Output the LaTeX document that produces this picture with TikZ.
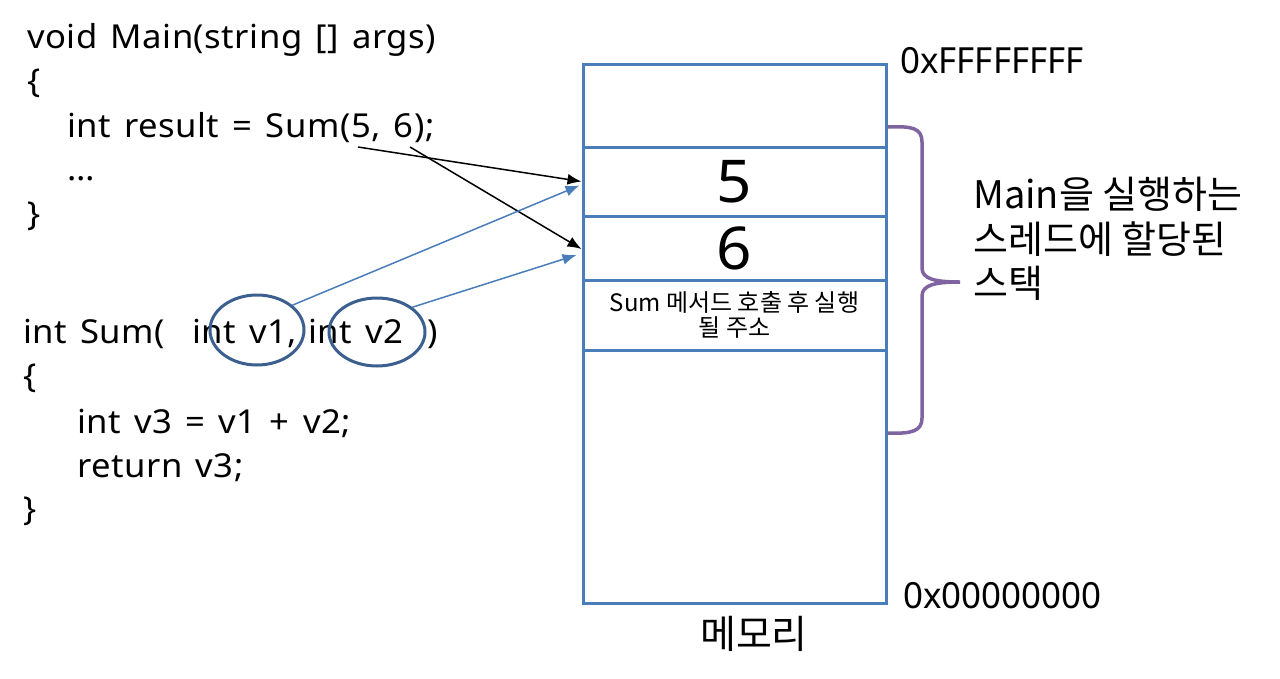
\documentclass[tikz,border=0pt]{standalone}
\usepackage{fontspec}
\setmainfont{Noto Sans}[FakeStretch=1.05,LetterSpace=1.5,WordSpace=1.4]
\newfontfamily\kr{Noto Sans CJK KR}
\newfontfamily\hexfont{Noto Sans}[FakeStretch=0.97]
\usetikzlibrary{arrows.meta,shapes.geometric,calc}
\definecolor{boxblue}{HTML}{4A7EBB}
\definecolor{ellblue}{HTML}{3B5F8F}
\definecolor{brpurple}{HTML}{8064A2}
\begin{document}
\begin{tikzpicture}[x=1pt,y=-1pt,
  code/.style={anchor=base west,inner sep=0pt,font=\fontsize{33}{36}\selectfont},
  cell/.style={draw=boxblue,line width=3pt,minimum width=303pt,inner sep=0pt},
  oval/.style={draw=ellblue,line width=3pt,ellipse,inner sep=0pt},
  blackarr/.style={draw=black,line width=1.5pt,-{Latex[length=14pt,width=11pt]}},
  bluearr/.style={draw=boxblue,line width=1.5pt,-{Latex[length=14pt,width=11pt]}},
  side/.style={anchor=base west,inner sep=0pt,font=\kr\fontsize{38}{44}\selectfont},
  hex/.style={anchor=base west,inner sep=0pt,font=\hexfont\fontsize{36}{40}\selectfont}
]
\useasboundingbox (0,0) rectangle (1280,678);
\fill[white] (0,0) rectangle (1280,678);

% code of Main
\node[code] (l1) at (27,48) {void Main(string [] args)};
\node[code] (l2) at (27,92) {\{};
\node[code] (l3) at (67,137) {int result = Sum(5, 6);};
\node[code] (l4) at (67,180) {…};
\node[code] (l5) at (27,225) {\}};

% code of Sum
\node[code] (m1) at (23,343) {int Sum(};
\node[code] (m1a) at (192,343) {int v1,};
\node[code] (m1b) at (308,343) {int v2};
\node[code] (m1c) at (427,343) {)};
\node[code] (m2) at (23,387) {\{};
\node[code] (m3) at (77,433) {int v3 = v1 + v2;};
\node[code] (m4) at (77,477) {return v3;};
\node[code] (m5) at (23,520) {\}};

% ellipses
\node[oval,minimum width=94pt,minimum height=70pt] (e1) at (257,330) {};
\node[oval,minimum width=96pt,minimum height=68pt] (e2) at (377,332) {};

% memory
\node[cell,minimum height=83pt] (ctop) at (734.5,105.5) {};
\node[cell,minimum height=69pt] (c5) at (734.5,181.5) {\fontsize{59}{60}\selectfont 5};
\node[cell,minimum height=64pt] (c6) at (734.5,248) {\fontsize{59}{60}\selectfont 6};
\node[cell,minimum height=70pt,align=center,font=\kr\fontsize{24}{25}\selectfont] (cret) at (734.5,315) {Sum 메서드 호출 후 실행\\될 주소};
\node[cell,minimum height=253pt] (crest) at (734.5,476.5) {};

\node[hex] (hi) at (900,73) {0xFFFFFFFF};
\node[hex] (lo) at (903,608) {0x00000000};
\node[font=\kr\fontsize{39}{44}\selectfont,inner sep=0pt] (mem) at (754,634) {메모리};

% arrows
\coordinate (s5) at (358,147);
\coordinate (s6) at (410,147);
\draw[blackarr] (s5) -- (c5.west);
\draw[blackarr] (s6) -- ($(c6.west)+(0,1)$);
\draw[bluearr] (e1.35) -- ($(c5.west)+(-2,4)$);
\draw[bluearr] (e2.35) -- ($(c6.west)+(-5,7)$);

% brace
\draw[brpurple,line width=3.5pt] (888,127) .. controls (912,126) and (922,128) .. (922,142)
  -- (922,268) .. controls (922,279) and (935,282) .. (960,282)
  .. controls (935,282) and (922,285) .. (922,296)
  -- (922,418) .. controls (922,431) and (912,434) .. (888,433);

\node[side] (t1) at (973,208) {Main을 실행하는};
\node[side] (t2) at (973,253) {스레드에 할당된};
\node[side] (t3) at (973,297) {스택};
\end{tikzpicture}
\end{document}
